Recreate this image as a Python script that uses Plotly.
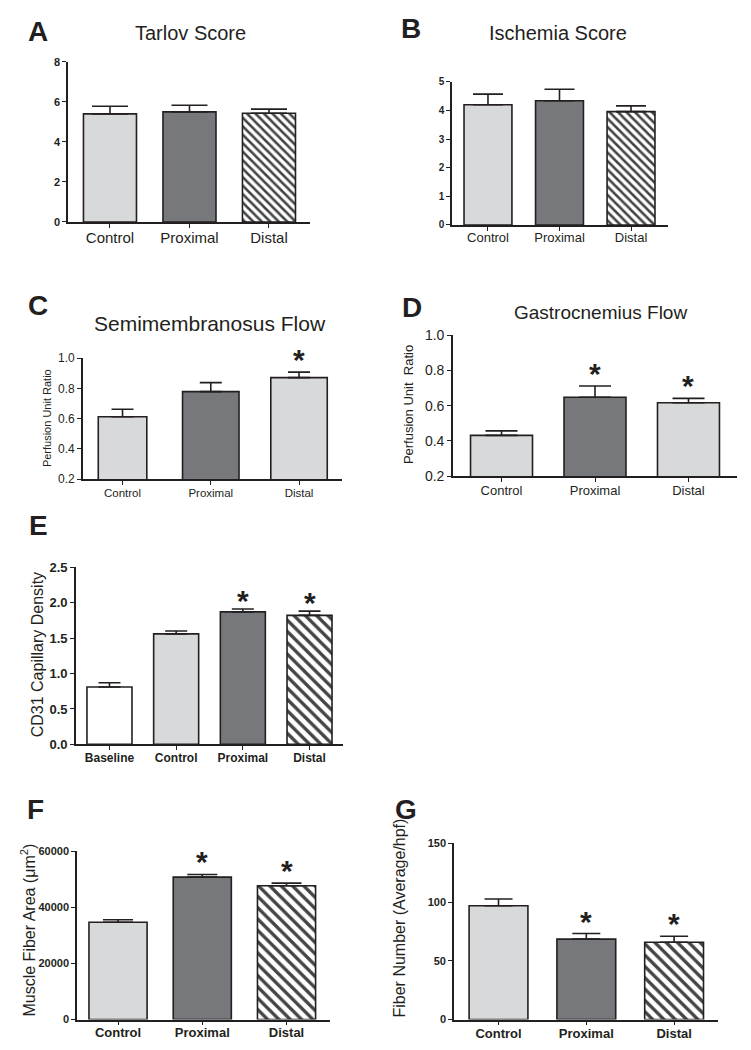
import plotly.graph_objects as go

W, H = 751, 1050
# vertical calibration of the photographed page (measured): shown_y = 8.2 + 0.984 * page_y
CAL_OFF, CAL_SCALE = 8.2, 0.984
FONT = "Liberation Sans, Arial, sans-serif"
INK = "#231f20"
LIGHT = "#d8d9db"
DARK = "#77787b"

# ---------------- data ----------------
cats3 = ["Control", "Proximal", "Distal"]
cats4 = ["Baseline", "Control", "Proximal", "Distal"]

tarlov_mean = [5.40, 5.50, 5.43]
tarlov_err = [0.38, 0.33, 0.21]

ischemia_mean = [4.20, 4.34, 3.96]
ischemia_err = [0.37, 0.40, 0.20]

semimem_mean = [0.612, 0.778, 0.871]
semimem_err = [0.050, 0.060, 0.036]
semimem_sig = [False, False, True]

gastro_mean = [0.431, 0.647, 0.616]
gastro_err = [0.026, 0.064, 0.025]
gastro_sig = [False, True, True]

cd31_mean = [0.81, 1.56, 1.87, 1.82]
cd31_err = [0.06, 0.04, 0.04, 0.06]
cd31_sig = [False, False, True, True]

fiber_area_mean = [34750, 50820, 47750]
fiber_area_err = [850, 970, 930]
fiber_area_sig = [False, True, True]

fiber_num_mean = [97.0, 68.5, 65.8]
fiber_num_err = [5.7, 4.8, 5.2]
fiber_num_sig = [False, True, True]

# ---------------- helpers ----------------
def px_x(x):
    return x / W

def px_y(y):
    return 1 - ((y - CAL_OFF) / CAL_SCALE) / H

fig = go.Figure()
annotations = []

def add_panel(idx, cats, mean, err, colors, shapes, geom, yrange, dtick,
              tickfmt, tickfont, ytickbold, xtickfont, xtickbold, capw,
              hatch_size, widths, sig=None, star_size=30, star_shift=-6,
              xstand=-3):
    xa = "x" if idx == 1 else f"x{idx}"
    ya = "y" if idx == 1 else f"y{idx}"
    fig.add_trace(go.Bar(
        x=cats, y=mean, xaxis=xa, yaxis=ya, width=widths,
        marker=dict(color=colors, line=dict(color=INK, width=1.6),
                    pattern=dict(shape=shapes, fgcolor="#000000",
                                 fgopacity=1, size=hatch_size,
                                 solidity=0.42)),
        error_y=dict(type="data", symmetric=False, array=err,
                     arrayminus=[0] * len(err), color=INK, thickness=1.6,
                     width=capw),
        showlegend=False, hoverinfo="skip",
    ))
    left, right, top, bottom, xr = geom
    lay_x = "xaxis" if idx == 1 else f"xaxis{idx}"
    lay_y = "yaxis" if idx == 1 else f"yaxis{idx}"
    fig.update_layout(**{
        lay_x: dict(domain=[px_x(left), px_x(right)], anchor=ya,
                    type="category", range=xr, showline=True, linecolor=INK,
                    linewidth=1.6, ticks="outside", ticklen=4, tickwidth=1.4,
                    tickcolor=INK, showgrid=False, zeroline=False,
                    ticklabelstandoff=xstand,
                    tickfont=dict(family=FONT, size=xtickfont, color=INK,
                                  weight="bold" if xtickbold else "normal"),
                    fixedrange=True),
        lay_y: dict(domain=[px_y(bottom), px_y(top)], anchor=xa,
                    range=yrange, dtick=dtick, tick0=yrange[0],
                    tickformat=tickfmt, showline=True, linecolor=INK,
                    linewidth=1.6, ticks="outside", ticklen=4, tickwidth=1.4,
                    tickcolor=INK, showgrid=False, zeroline=False,
                    tickfont=dict(family=FONT, size=tickfont, color=INK,
                                  weight="bold" if ytickbold else "normal"),
                    fixedrange=True),
    })
    if sig:
        for c, m, e, s in zip(cats, mean, err, sig):
            if s:
                annotations.append(dict(
                    x=c, y=m + e, xref=xa, yref=ya, text="*", showarrow=False,
                    yanchor="bottom", yshift=star_shift,
                    font=dict(family=FONT, size=star_size, color=INK,
                              weight="bold")))

def label(text, x, y, size, bold=False, angle=0):
    annotations.append(dict(
        text=text, x=px_x(x), y=px_y(y), xref="paper", yref="paper",
        showarrow=False, xanchor="center", yanchor="middle", textangle=angle,
        font=dict(family=FONT, size=size, color=INK,
                  weight="bold" if bold else "normal")))

hatch = ["", "", "\\"]
col3 = [LIGHT, DARK, "white"]
col3flow = [LIGHT, DARK, LIGHT]

# A
add_panel(1, cats3, tarlov_mean, tarlov_err, col3, hatch,
          (68, 310, 62, 222, [-0.528, 2.516]), [0, 8], 2, "d", 11, True,
          15, False, 18, 6, 0.667, xstand=-3)
# B
add_panel(2, cats3, ischemia_mean, ischemia_err, col3, hatch,
          (452, 668, 82, 225, [-0.503, 2.517]), [0, 5], 1, "d", 10, True,
          13, False, 15, 6, 0.67, xstand=-4)
# C
add_panel(3, cats3, semimem_mean, semimem_err, col3flow, ["", "", ""],
          (83, 342, 358, 479, [-0.448, 2.487]), [0.2, 1.0], 0.2, ".1f", 12,
          False, 11.5, False, 11, 6, [0.55, 0.64, 0.64], semimem_sig,
          xstand=-2)
# D
add_panel(4, cats3, gastro_mean, gastro_err, col3flow, ["", "", ""],
          (453, 737, 335, 476, [-0.519, 2.519]), [0.2, 1.0], 0.2, ".1f", 14,
          False, 13, False, 16, 6, 0.663, gastro_sig, xstand=-3)
# E
add_panel(5, cats4, cd31_mean, cd31_err, ["white", LIGHT, DARK, "white"],
          ["", "", "", "\\"], (76, 343, 567, 744, [-0.502, 3.502]),
          [0, 2.5], 0.5, ".1f", 13, True, 12, True, 11, 8, 0.675, cd31_sig,
          star_shift=-10, xstand=-3)
# F
add_panel(6, cats3, fiber_area_mean, fiber_area_err, col3, hatch,
          (77, 330, 851, 1019, [-0.487, 2.516]), [0, 60000], 20000, "d", 11,
          True, 13, True, 15, 8, 0.69, fiber_area_sig, xstand=-4)
# G
add_panel(7, cats3, fiber_num_mean, fiber_num_err, col3, hatch,
          (454, 718, 843, 1019, [-0.507, 2.50]), [0, 150], 50, "d", 11,
          True, 13, True, 14, 8, 0.67, fiber_num_sig, xstand=-3)

# panel letters
for t, x, y in [("A", 38, 32), ("B", 411, 29), ("C", 38, 305), ("D", 412, 307),
                ("E", 38, 525), ("F", 35, 809), ("G", 406, 809)]:
    label(t, x, y, 28, bold=True)

# titles
label("Tarlov Score", 190, 33, 20)
label("Ischemia Score", 558, 33, 20)
label("Semimembranosus Flow", 210, 323, 21)
label("Gastrocnemius Flow", 600, 312, 19)

# y-axis titles
label("Perfusion Unit Ratio", 47, 418, 11, angle=-90)
label("Perfusion Unit  Ratio", 408, 405, 13, angle=-90)
label("CD31 Capillary Density", 37, 655, 16, angle=-90)
label("Muscle Fiber Area (\u03bcm<sup>2</sup>)", 28, 930, 16, angle=-90)
label("Fiber Number (Average/hpf)", 400, 918, 16, angle=-90)

fig.update_layout(width=W, height=H, margin=dict(l=0, r=0, t=0, b=0),
                  paper_bgcolor="white", plot_bgcolor="white",
                  bargap=0.3, annotations=annotations,
                  font=dict(family=FONT, color=INK))

fig.write_html(
    "out.html",
    config={"displayModeBar": False},
    post_script="document.body.style.margin='0';",
)
